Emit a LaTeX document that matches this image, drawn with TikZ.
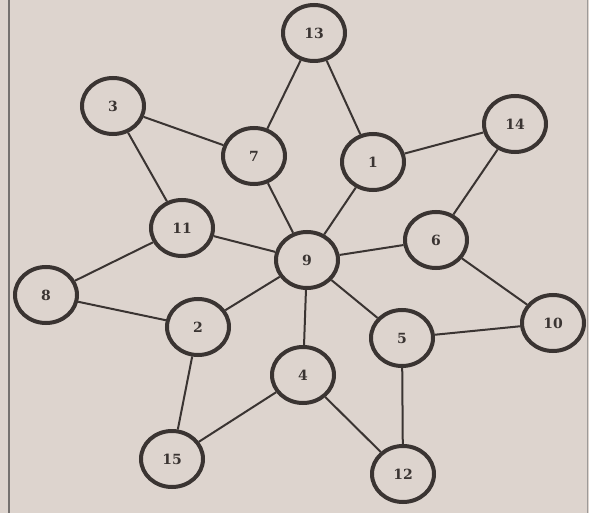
\documentclass[tikz,border=0pt]{standalone}
\usepackage{fontspec}
\setmainfont{DejaVu Serif}
\usetikzlibrary{shapes.geometric,backgrounds}
\definecolor{paper}{HTML}{DDD4CE}
\definecolor{ink}{HTML}{3A3432}
\begin{document}
\begin{tikzpicture}[x=1pt,y=-1pt,
  vert/.style={ellipse,draw=ink,line width=4pt,fill=paper,minimum width=62pt,minimum height=56pt,inner sep=0pt,font=\fontsize{14}{14}\selectfont\bfseries,text=ink},
  edge/.style={draw=ink,line width=2pt}]
\useasboundingbox (0,0) rectangle (589,513);
\node[vert] (n13) at (314,33) {13};
\node[vert] (n3) at (113,106) {3};
\node[vert] (n7) at (254,156) {7};
\node[vert] (n1) at (373,162) {1};
\node[vert] (n14) at (515,124) {14};
\node[vert] (n11) at (182,228) {11};
\node[vert] (n9) at (307,260) {9};
\node[vert] (n6) at (436,240) {6};
\node[vert] (n8) at (46,295) {8};
\node[vert] (n2) at (198,327) {2};
\node[vert] (n5) at (402,338) {5};
\node[vert] (n10) at (553,323) {10};
\node[vert] (n4) at (303,375) {4};
\node[vert] (n15) at (172,459) {15};
\node[vert] (n12) at (403,474) {12};
\begin{scope}[on background layer]
\fill[paper] (0,0) rectangle (589,513);
\draw[ink!70,line width=1.5pt] (9,0) -- (9,513);
\draw[ink!50,line width=1pt] (587,0) -- (587,513);
\foreach \a/\b in {n13/n7,n13/n1,n3/n7,n3/n11,n7/n9,n1/n9,n1/n14,n14/n6,n11/n9,n11/n8,n8/n2,n9/n6,n6/n10,n9/n2,n9/n5,n9/n4,n5/n10,n5/n12,n4/n15,n4/n12,n2/n15}
  \draw[edge] (\a) -- (\b);
\end{scope}
\end{tikzpicture}
\end{document}
